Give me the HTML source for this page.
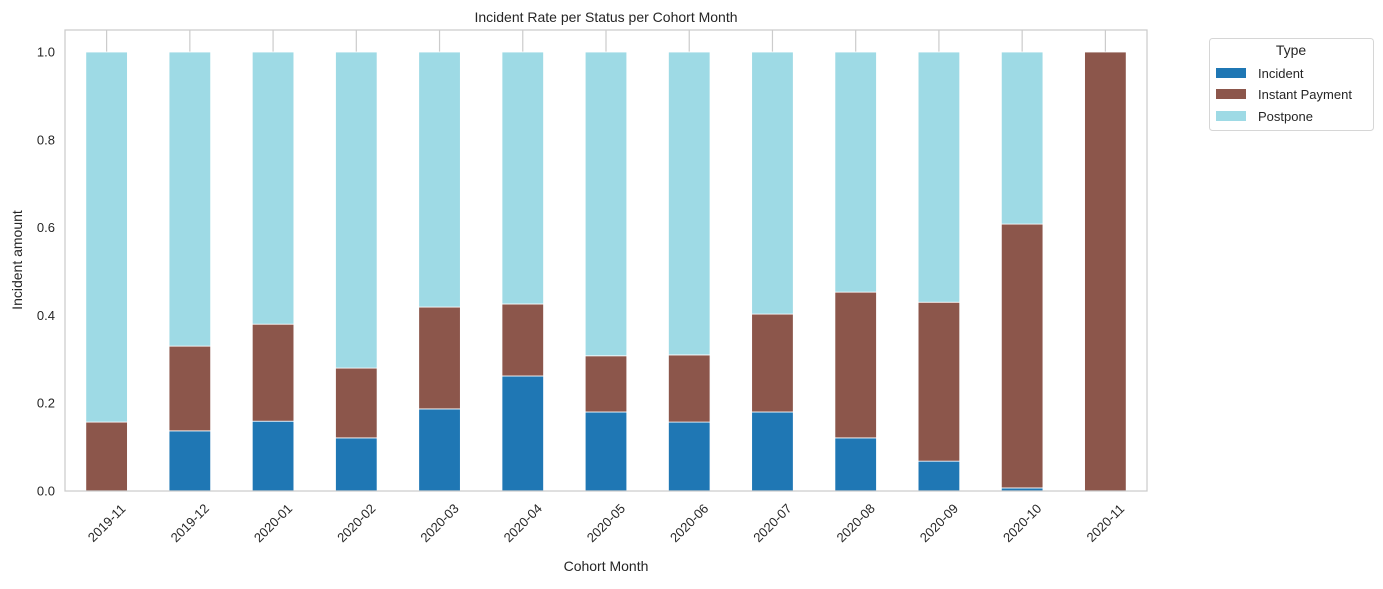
<!DOCTYPE html>
<html><head><meta charset="utf-8"><style>
body{margin:0;background:#fff;font-family:"Liberation Sans","DejaVu Sans",sans-serif;}
svg text{font-family:"Liberation Sans","DejaVu Sans",sans-serif;fill:#262626;}
</style></head><body>
<svg id="chart" width="1383" height="584" xmlns="http://www.w3.org/2000/svg">
<rect x="0" y="0" width="1383" height="584" fill="#fff"/>
<g id="grid"></g><g id="bars"></g><g id="axes"></g>
<rect x="65" y="30" width="1082" height="461" fill="none" stroke="#cccccc" stroke-width="1.25"/>
<text x="606" y="22" text-anchor="middle" font-size="14">Incident Rate per Status per Cohort Month</text>
<text x="606" y="571" text-anchor="middle" font-size="14">Cohort Month</text>
<text x="22" y="260" text-anchor="middle" font-size="14" transform="rotate(-90 22 260)">Incident amount</text>
<g>
<rect x="1209.5" y="38.5" width="164" height="92" rx="3" fill="#fff" stroke="#d6d6d6"/>
<text x="1291" y="55" text-anchor="middle" font-size="14">Type</text>
<rect x="1216" y="68" width="30" height="10" fill="#1f77b4"/>
<text x="1258" y="78" font-size="13">Incident</text>
<rect x="1216" y="89" width="30" height="10" fill="#8c564b"/>
<text x="1258" y="99" font-size="13">Instant Payment</text>
<rect x="1216" y="111" width="30" height="10" fill="#9edae5"/>
<text x="1258" y="121" font-size="13">Postpone</text>
</g>
</svg>
<script>
const categories=["2019-11","2019-12","2020-01","2020-02","2020-03","2020-04","2020-05","2020-06","2020-07","2020-08","2020-09","2020-10","2020-11"];
const incident=[0,0.137,0.159,0.121,0.187,0.262,0.180,0.157,0.180,0.121,0.068,0.007,0];
const instantPayment=[0.157,0.193,0.221,0.159,0.232,0.164,0.128,0.153,0.223,0.332,0.362,0.601,1.0];
const postpone=[0.843,0.670,0.620,0.720,0.581,0.574,0.692,0.690,0.597,0.547,0.570,0.392,0];
const yTicks=[0,0.2,0.4,0.6,0.8,1.0];
const NS="http://www.w3.org/2000/svg";
const x0=65,x1=1147,y0=491,yTop=52;
const yScale=v=>y0-v*(y0-yTop);
const step=(x1-x0)/categories.length;
const xScale=i=>x0+step*(i+0.5);
const bw=step*0.5;
function mk(tag,attrs,parent){const e=document.createElementNS(NS,tag);for(const k in attrs)e.setAttribute(k,attrs[k]);document.getElementById(parent).appendChild(e);return e;}
categories.forEach((c,i)=>{
  const cx=xScale(i);
  const g=mk("line",{x1:cx,x2:cx,y1:30,y2:491,stroke:"#cccccc","stroke-width":1.2},"grid");
  
  
  const series=[[incident,"#1f77b4","incident"],[instantPayment,"#8c564b","instant-payment"],[postpone,"#9edae5","postpone"]];
  let base=0;
  series.forEach(([arr,col,nm])=>{
    const v=arr[i];
    if(v>0){
      const r=mk("rect",{x:cx-bw/2,y:yScale(base+v),width:bw,height:yScale(base)-yScale(base+v),fill:col,stroke:"#fff","stroke-width":0.8},"bars");
      
      
    }
    base+=v;
  });
  const ly=523;
  const t=mk("text",{x:cx,y:ly+4.5,"font-size":13,"text-anchor":"middle",transform:`rotate(-45 ${cx} ${ly})`},"axes");
  t.textContent=c;
  
  
});
yTicks.forEach(v=>{
  const t=mk("text",{x:55,y:yScale(v)+4.5,"font-size":13,"text-anchor":"end"},"axes");
  t.textContent=v.toFixed(1);
  
  
});
</script>
</body></html>
